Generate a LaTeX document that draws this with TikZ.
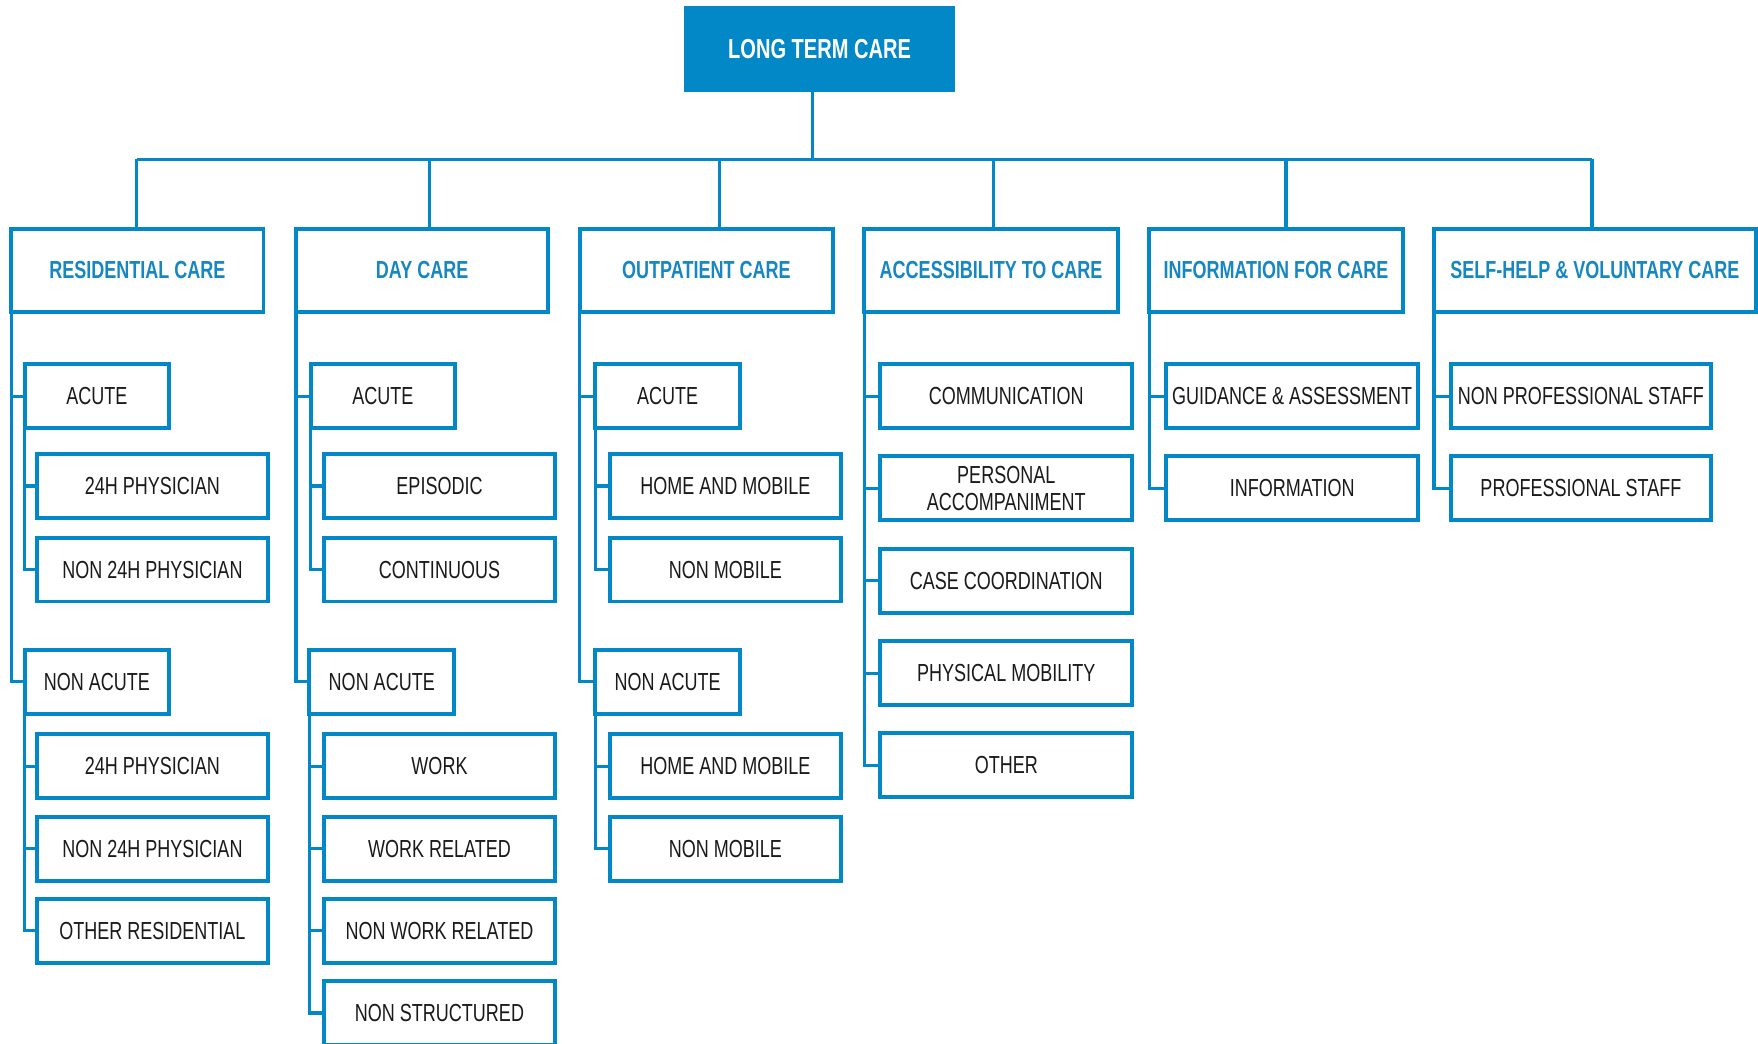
\documentclass[tikz,border=0pt]{standalone}
\usepackage{fontspec}
\setmainfont{Liberation Sans}[FakeStretch=0.73]
\definecolor{ltcblue}{HTML}{0288C7}
\definecolor{hdrblue}{HTML}{1787C1}
\definecolor{txtblack}{HTML}{1A1A1A}
\tikzset{
  boxbase/.style={draw=ltcblue, line width=3.5pt, fill=white, inner sep=0pt, outer sep=0pt, align=center},
  topbox/.style={fill=ltcblue, draw=ltcblue, line width=1pt, inner sep=0pt, outer sep=0pt,
    minimum width=240pt, minimum height=76pt, text=white, font=\fontsize{24.5}{26}\selectfont\bfseries},
  hdrbox/.style={boxbase, minimum width=225pt, minimum height=74pt, text=hdrblue,
    font=\fontsize{22}{24}\selectfont\bfseries},
  leafbox/.style={boxbase, minimum height=57pt, text=txtblack, font=\fontsize{22}{24}\selectfont},
  midbox/.style={leafbox, minimum width=129pt},
  subbox/.style={leafbox, minimum width=206pt},
  widebox/.style={leafbox, minimum width=225pt},
  conn/.style={draw=ltcblue, line width=3pt},
}
\begin{document}
\begin{tikzpicture}[x=1pt,y=-1pt]
\useasboundingbox (0,0) rectangle (1568,931);

% top
\node[topbox] (ltc) at (731,44) {LONG TERM CARE};

% headers
\node[hdrbox] (res) at (122.5,241) {RESIDENTIAL CARE};
\node[hdrbox] (day) at (376.5,241) {DAY CARE};
\node[hdrbox, minimum width=226pt] (out) at (630,241) {OUTPATIENT CARE};
\node[hdrbox, minimum width=226pt] (acc) at (884,241) {ACCESSIBILITY TO CARE};
\node[hdrbox, minimum width=226pt] (inf) at (1138,241) {INFORMATION FOR CARE};
\node[hdrbox, minimum width=287pt] (slf) at (1422.5,241) {SELF-HELP \& VOLUNTARY CARE};

% bus coordinates
\coordinate (stem) at (724.5,142);
\coordinate (d1) at (122,142);
\coordinate (d2) at (383,142);
\coordinate (d3) at (642,142);
\coordinate (d4) at (886,142);
\coordinate (d5) at (1147,142);
\coordinate (d6) at (1420,142);

% residential
\node[midbox] (ra) at (86.5,353.5) {ACUTE};
\node[subbox] (ra1) at (136,433.5) {24H PHYSICIAN};
\node[subbox] (ra2) at (136,508) {NON 24H PHYSICIAN};
\node[midbox] (rn) at (86.5,608) {NON ACUTE};
\node[subbox] (rn1) at (136,683.5) {24H PHYSICIAN};
\node[subbox] (rn2) at (136,757) {NON 24H PHYSICIAN};
\node[subbox] (rn3) at (136,830) {OTHER RESIDENTIAL};

% day care
\node[midbox] (da) at (341.5,353.5) {ACUTE};
\node[subbox] (da1) at (392,433.5) {EPISODIC};
\node[subbox] (da2) at (392,508) {CONTINUOUS};
\node[midbox] (dn) at (340.5,608) {NON ACUTE};
\node[subbox] (dn1) at (392,683.5) {WORK};
\node[subbox] (dn2) at (392,757) {WORK RELATED};
\node[subbox] (dn3) at (392,830) {NON WORK RELATED};
\node[subbox] (dn4) at (392,903.5) {NON STRUCTURED};

% outpatient
\node[midbox] (oa) at (595.5,353.5) {ACUTE};
\node[subbox] (oa1) at (647,433.5) {HOME AND MOBILE};
\node[subbox] (oa2) at (647,508) {NON MOBILE};
\node[midbox] (on) at (595.5,608) {NON ACUTE};
\node[subbox] (on1) at (647,683.5) {HOME AND MOBILE};
\node[subbox] (on2) at (647,757) {NON MOBILE};

% accessibility
\node[widebox] (ac1) at (897.5,353.5) {COMMUNICATION};
\node[widebox] (ac2) at (897.5,435.5) {PERSONAL\\ACCOMPANIMENT};
\node[widebox] (ac3) at (897.5,518) {CASE COORDINATION};
\node[widebox] (ac4) at (897.5,600.5) {PHYSICAL MOBILITY};
\node[widebox] (ac5) at (897.5,682.5) {OTHER};

% information
\node[widebox] (in1) at (1152.5,353.5) {GUIDANCE \& ASSESSMENT};
\node[widebox] (in2) at (1152.5,435.5) {INFORMATION};

% self-help
\node[leafbox, minimum width=232pt] (sh1) at (1410,353.5) {NON PROFESSIONAL STAFF};
\node[leafbox, minimum width=232pt] (sh2) at (1410,435.5) {PROFESSIONAL STAFF};

% top connectors
\draw[conn] (stem |- ltc.south) -- (stem);
\draw[conn] (d1) -- (d6);
\draw[conn] (d1) -- (d1 |- res.north);
\draw[conn] (d2) -- (d2 |- day.north);
\draw[conn] (d3) -- (d3 |- out.north);
\draw[conn] (d4) -- (d4 |- acc.north);
\draw[conn] (d5) -- (d5 |- inf.north);
\draw[conn] (d6) -- (d6 |- slf.north);

% residential connectors
\draw[conn] (res.south west) |- (ra.west);
\draw[conn] (res.south west) |- (rn.west);
\draw[conn] (ra.south west) |- (ra1.west);
\draw[conn] (ra.south west) |- (ra2.west);
\draw[conn] (rn.south west) |- (rn1.west);
\draw[conn] (rn.south west) |- (rn2.west);
\draw[conn] (rn.south west) |- (rn3.west);

% day connectors
\draw[conn] (day.south west) |- (da.west);
\draw[conn] (day.south west) |- (dn.west);
\draw[conn] (da.south west) |- (da1.west);
\draw[conn] (da.south west) |- (da2.west);
\draw[conn] (dn.south west) |- (dn1.west);
\draw[conn] (dn.south west) |- (dn2.west);
\draw[conn] (dn.south west) |- (dn3.west);
\draw[conn] (dn.south west) |- (dn4.west);

% outpatient connectors
\draw[conn] (out.south west) |- (oa.west);
\draw[conn] (out.south west) |- (on.west);
\draw[conn] (oa.south west) |- (oa1.west);
\draw[conn] (oa.south west) |- (oa2.west);
\draw[conn] (on.south west) |- (on1.west);
\draw[conn] (on.south west) |- (on2.west);

% accessibility connectors
\draw[conn] (acc.south west) |- (ac1.west);
\draw[conn] (acc.south west) |- (ac2.west);
\draw[conn] (acc.south west) |- (ac3.west);
\draw[conn] (acc.south west) |- (ac4.west);
\draw[conn] (acc.south west) |- (ac5.west);

% information connectors
\draw[conn] (inf.south west) |- (in1.west);
\draw[conn] (inf.south west) |- (in2.west);

% self-help connectors
\draw[conn] (slf.south west) |- (sh1.west);
\draw[conn] (slf.south west) |- (sh2.west);
\end{tikzpicture}
\end{document}
